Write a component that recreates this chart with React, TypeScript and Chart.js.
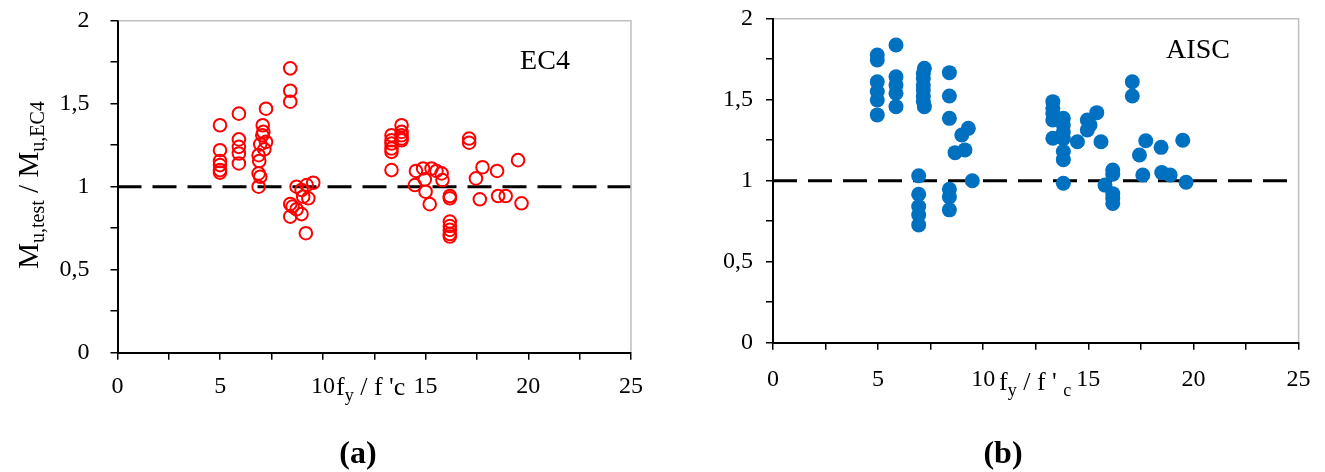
import React, { useEffect, useRef } from "react";
import { Chart, registerables } from "chart.js";
Chart.register(...registerables);

const FONT = "'Liberation Serif', 'Times New Roman', serif";

// Panel (a) – EC4
const ec4X = [
  4.99, 4.99, 4.99, 4.99, 4.99, 4.99,
  5.91, 5.91, 5.91, 5.91, 5.91,
  7.23, 7.07, 7.1, 7.05, 7.23, 6.95, 7.15, 6.87, 6.9, 6.87, 6.95, 6.87,
  8.41, 8.41, 8.41,
  8.72, 8.96, 9.21, 9.53, 9.04, 9.29, 8.41, 8.52, 8.72, 8.96, 8.41, 9.17,
  13.34, 13.34, 13.34, 13.34, 13.34, 13.34, 13.83, 13.83, 13.83, 13.83, 13.83,
  14.53, 14.88, 15.29, 15.53, 15.78, 15.82, 14.96, 14.48, 15.0, 15.2,
  16.18, 16.18, 16.18, 16.18, 16.18, 16.18, 16.18,
  17.12, 17.12, 19.5, 17.77, 18.48, 17.45, 17.64, 18.53, 18.9, 19.67,
];
const ec4Y = [
  1.37, 1.22, 1.155, 1.13, 1.1, 1.085,
  1.44, 1.285, 1.24, 1.2, 1.14,
  1.47, 1.37, 1.33, 1.31, 1.27, 1.255, 1.225, 1.19, 1.155, 1.08, 1.06, 1.0,
  1.713, 1.578, 1.512,
  1.0, 0.98, 1.01, 1.024, 0.94, 0.93, 0.896, 0.88, 0.864, 0.835, 0.82, 0.72,
  1.31, 1.28, 1.26, 1.23, 1.21, 1.1, 1.37, 1.33, 1.31, 1.29, 1.28,
  1.095, 1.11, 1.11, 1.095, 1.08, 1.04, 1.044, 1.01, 0.97, 0.895,
  0.944, 0.93, 0.79, 0.763, 0.74, 0.715, 0.7,
  1.29, 1.265, 1.16, 1.117, 1.095, 1.05, 0.924, 0.944, 0.944, 0.9,
];

// Panel (b) – AISC
const aiscX = [
  4.96, 4.96, 4.96, 4.96, 4.96, 4.96,
  5.85, 5.85, 5.85, 5.85, 5.85,
  7.2, 7.15, 7.15, 7.15, 7.15, 7.15, 7.15, 7.2,
  8.39, 8.39, 8.39,
  8.98, 9.29, 8.66, 9.13, 9.48,
  6.93, 6.93, 6.93, 6.93, 6.93,
  8.39, 8.39, 8.39,
  13.31, 13.31, 13.31, 13.31, 13.31,
  13.81, 13.81, 13.81, 13.81, 13.81, 13.81, 13.81,
  14.48,
  15.4, 14.95, 15.08, 14.95, 15.6,
  16.16, 16.16, 16.16, 16.16, 16.16, 15.79,
  17.09, 17.09,
  17.73, 17.43, 18.46, 19.49, 17.59, 18.49, 18.89, 19.65,
];
const aiscY = [
  1.776, 1.745, 1.611, 1.55, 1.498, 1.406,
  1.838, 1.642, 1.59, 1.54, 1.457,
  1.694, 1.663, 1.632, 1.59, 1.56, 1.52, 1.49, 1.457,
  1.667, 1.523, 1.385,
  1.282, 1.323, 1.173, 1.19, 1.0,
  1.03, 0.916, 0.84, 0.79, 0.727,
  0.947, 0.9, 0.82,
  1.488, 1.447, 1.416, 1.375, 1.262,
  1.385, 1.344, 1.3, 1.26, 1.18, 1.13, 0.984,
  1.24,
  1.42, 1.375, 1.344, 1.313, 1.24,
  1.066, 1.04, 0.92, 0.89, 0.86, 0.973,
  1.611, 1.523,
  1.247, 1.159, 1.206, 1.25, 1.035, 1.05, 1.035, 0.99,
];

const refX = [0, 25];
const refY = [1, 1];

const xLimits = [0, 25];
const yLimits = [0, 2];
const xStep = 2.5;
const yStep = 0.25;

type Piece = { t: string; sub?: boolean };

function drawRich(
  ctx: CanvasRenderingContext2D,
  pieces: Piece[],
  x: number,
  y: number,
  size: number,
  subSize: number,
  subDrop: number,
  align: "left" | "center"
) {
  const widths = pieces.map((p) => {
    ctx.font = `${p.sub ? subSize : size}px ${FONT}`;
    return ctx.measureText(p.t).width;
  });
  const total = widths.reduce((a, b) => a + b, 0);
  let cx = align === "center" ? x - total / 2 : x;
  ctx.textAlign = "left";
  ctx.textBaseline = "alphabetic";
  pieces.forEach((p, i) => {
    ctx.font = `${p.sub ? subSize : size}px ${FONT}`;
    ctx.fillText(p.t, cx, p.sub ? y + subDrop : y);
    cx += widths[i];
  });
}

function fmt(v: number) {
  return String(v).replace(".", ",");
}

type Panel = {
  xs: number[];
  ys: number[];
  point: any;
  padding: any;
  yWidth: number;
  xHeight: number;
  yPad: number;
  xPad: number;
  deco: (ctx: CanvasRenderingContext2D, chart: any) => void;
};

function makeConfig(p: Panel): any {
  const decoPlugin = {
    id: "deco",
    afterDraw(chart: any) {
      const ctx = chart.ctx as CanvasRenderingContext2D;
      const a = chart.chartArea;
      ctx.save();
      ctx.strokeStyle = "#BFBFBF";
      ctx.lineWidth = 1.5;
      ctx.beginPath();
      ctx.moveTo(a.left + 1, a.top);
      ctx.lineTo(a.right, a.top);
      ctx.lineTo(a.right, a.bottom - 1);
      ctx.stroke();
      ctx.fillStyle = "#000";
      p.deco(ctx, chart);
      ctx.restore();
    },
  };
  return {
    type: "scatter",
    data: {
      datasets: [
        {
          type: "scatter",
          data: p.xs.map((x, i) => ({ x, y: p.ys[i] })),
          order: 0,
          ...p.point,
        },
        {
          type: "line",
          data: refX.map((x, i) => ({ x, y: refY[i] })),
          order: 1,
          borderColor: "#000",
          borderWidth: 3,
          borderDash: [24, 11],
          pointRadius: 0,
          fill: false,
          showLine: true,
        },
      ],
    },
    options: {
      responsive: false,
      animation: false,
      events: [],
      layout: { padding: p.padding },
      plugins: { legend: { display: false }, tooltip: { enabled: false } },
      scales: {
        x: {
          type: "linear",
          min: xLimits[0],
          max: xLimits[1],
          afterFit: (s: any) => {
            s.height = p.xHeight;
            s.paddingLeft = 0;
            s.paddingRight = 0;
          },
          ticks: {
            stepSize: xStep,
            autoSkip: false,
            maxRotation: 0,
            color: "#000",
            padding: p.xPad,
            font: { family: FONT, size: 24 },
            callback: (v: number) => (Math.abs(v % 5) < 1e-9 ? fmt(v) : ""),
          },
          grid: {
            drawOnChartArea: false,
            drawTicks: true,
            tickLength: 7,
            color: "#000",
            lineWidth: 1.5,
          },
          border: { display: true, color: "#000", width: 2 },
        },
        y: {
          type: "linear",
          min: yLimits[0],
          max: yLimits[1],
          afterFit: (s: any) => {
            s.width = p.yWidth;
            s.paddingTop = 0;
            s.paddingBottom = 0;
          },
          ticks: {
            stepSize: yStep,
            autoSkip: false,
            color: "#000",
            padding: p.yPad,
            font: { family: FONT, size: 24 },
            callback: (v: number) =>
              Math.abs(v * 2 - Math.round(v * 2)) < 1e-9 ? fmt(v) : "",
          },
          grid: {
            drawOnChartArea: false,
            drawTicks: true,
            tickLength: 7,
            color: "#000",
            lineWidth: 1.5,
          },
          border: { display: true, color: "#000", width: 2 },
        },
      },
    },
    plugins: [decoPlugin],
  };
}

export default function App() {
  const refA = useRef<HTMLCanvasElement>(null);
  const refB = useRef<HTMLCanvasElement>(null);

  useEffect(() => {
    const a = new Chart(
      refA.current!,
      makeConfig({
        xs: ec4X,
        ys: ec4Y,
        point: {
          pointStyle: "circle",
          pointRadius: 6.3,
          borderWidth: 2,
          borderColor: "#FF0000",
          backgroundColor: "rgba(255,255,255,0)",
        },
        padding: { left: 0, right: 694, top: 20.7, bottom: 0 },
        yWidth: 117.5,
        xHeight: 119.3,
        yPad: 21,
        xPad: 13,
        deco: (ctx) => {
          ctx.font = `28px ${FONT}`;
          ctx.textAlign = "center";
          ctx.textBaseline = "middle";
          ctx.fillText("EC4", 545, 62);
          ctx.font = `bold 32px ${FONT}`;
          ctx.fillText("(a)", 358, 455);
          drawRich(ctx, [{ t: "f" }, { t: "y", sub: true }, { t: " / f 'c" }], 336, 395, 26, 18, 6, "left");
          ctx.save();
          ctx.translate(30, 185);
          ctx.rotate(-Math.PI / 2);
          drawRich(
            ctx,
            [{ t: "M" }, { t: "u,test", sub: true }, { t: " / M" }, { t: "u,EC4", sub: true }],
            0,
            8,
            29,
            20,
            6,
            "center"
          );
          ctx.restore();
        },
      })
    );
    const b = new Chart(
      refB.current!,
      makeConfig({
        xs: aiscX,
        ys: aiscY,
        point: {
          pointStyle: "circle",
          pointRadius: 7.5,
          borderWidth: 0,
          borderColor: "#0070C0",
          backgroundColor: "#0070C0",
        },
        padding: { left: 693, right: 26.4, top: 18.7, bottom: 0 },
        yWidth: 80,
        xHeight: 129.3,
        yPad: 13,
        xPad: 16,
        deco: (ctx) => {
          ctx.font = `28px ${FONT}`;
          ctx.textAlign = "center";
          ctx.textBaseline = "middle";
          ctx.fillText("AISC", 1198, 51);
          ctx.font = `bold 32px ${FONT}`;
          ctx.fillText("(b)", 1003, 455);
          drawRich(
            ctx,
            [{ t: "f" }, { t: "y", sub: true }, { t: " / f ' " }, { t: "c", sub: true }],
            999,
            390,
            26,
            18,
            6,
            "left"
          );
        },
      })
    );
    return () => {
      a.destroy();
      b.destroy();
    };
  }, []);

  return (
    <div
      style={{
        position: "fixed",
        left: 0,
        top: 0,
        width: 1325,
        height: 472,
        background: "#fff",
      }}
    >
      <canvas ref={refA} width={1325} height={472} style={{ position: "absolute", left: 0, top: 0 }} />
      <canvas ref={refB} width={1325} height={472} style={{ position: "absolute", left: 0, top: 0 }} />
    </div>
  );
}
